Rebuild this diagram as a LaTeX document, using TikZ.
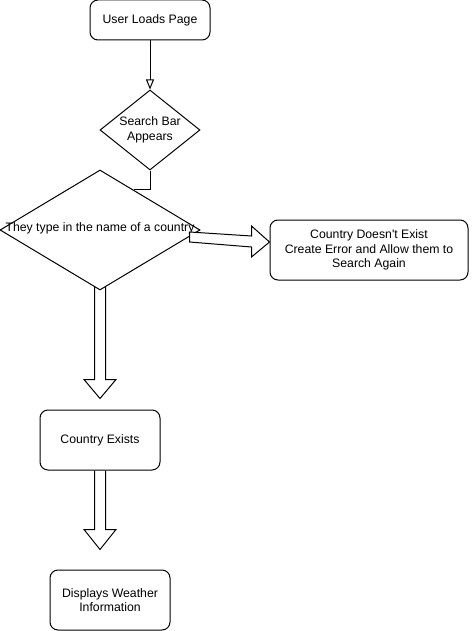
\documentclass[tikz,border=0pt]{standalone}
\usepackage{fontspec}
\setmainfont{Liberation Sans}
\usetikzlibrary{shapes.geometric,arrows.meta,calc}
\begin{document}
\begin{tikzpicture}[x=0.75pt,y=-0.75pt,
  line width=0.75pt,
  every node/.style={font=\fontsize{9.2}{10.9}\selectfont, align=center, inner sep=0pt},
  rbox/.style={draw, rounded corners=6pt, fill=white},
  dia/.style={draw, diamond, fill=white},
  flex/.style={draw, line join=miter},
  flexfill/.style={draw, fill=white, line join=miter},
]
\useasboundingbox (0,0) rectangle (471,631);
\node[rbox, minimum width=90pt, minimum height=30pt] (load) at (150,20) {User Loads Page};
\node[dia, minimum width=75pt, minimum height=60pt, label={center:{Search Bar\\Appears}}] (search) at (150,130) {};
\node[dia, minimum width=150pt, minimum height=90pt, label={[yshift=1pt]center:{They type in the name of a country}}] (type) at (100,230) {};
\node[rbox, minimum width=148.5pt, minimum height=45pt] (err) at (369,250) {Country Doesn\textquotesingle t Exist\\Create Error and Allow them to\\Search Again};
\node[rbox, minimum width=90pt, minimum height=45pt] (exists) at (100,440) {Country Exists};
\node[rbox, minimum width=90pt, minimum height=45pt] (show) at (110,600) {Displays Weather\\Information};

% simple connectors
\draw[-{Triangle[open,length=7.5pt,width=6pt]}] (load) -- (search);
\coordinate (join) at ($(type.north)!1/3!(type.east)$);
\draw (search.south) |- (join);

% block arrow: type -> err
\coordinate (rs) at ($(type.east)+(-11,7)$);
\coordinate (rt) at ($(err.west)+(0,-8)$);
\draw[flexfill] ($(rs)+(0,-5)$) -- ($(rt)+(-18,-6)$) -- ($(rt)+(-18,-16)$) -- (rt)
  -- ($(rt)+(-18,15)$) -- ($(rt)+(-18,5)$) -- ($(rs)+(0,5)$) -- cycle;

% block arrow: type -> exists
\coordinate (t1) at ($(exists.north)+(0,-11)$);
\draw[flex] ($(type.south)+(-5.5,-3.3)$) -- ($(t1)+(-5.5,-19)$) -- ($(t1)+(-16,-19)$) -- (t1)
  -- ($(t1)+(16,-19)$) -- ($(t1)+(5.5,-19)$) -- ($(type.south)+(5.5,-3.3)$);

% block arrow: exists -> show
\coordinate (t2) at ($(show.north)+(-10,-20)$);
\draw[flex] ($(exists.south)+(-5.5,0)$) -- ($(t2)+(-5.5,-20)$) -- ($(t2)+(-16,-20)$) -- (t2)
  -- ($(t2)+(16,-20)$) -- ($(t2)+(5.5,-20)$) -- ($(exists.south)+(5.5,0)$);
\end{tikzpicture}
\end{document}
